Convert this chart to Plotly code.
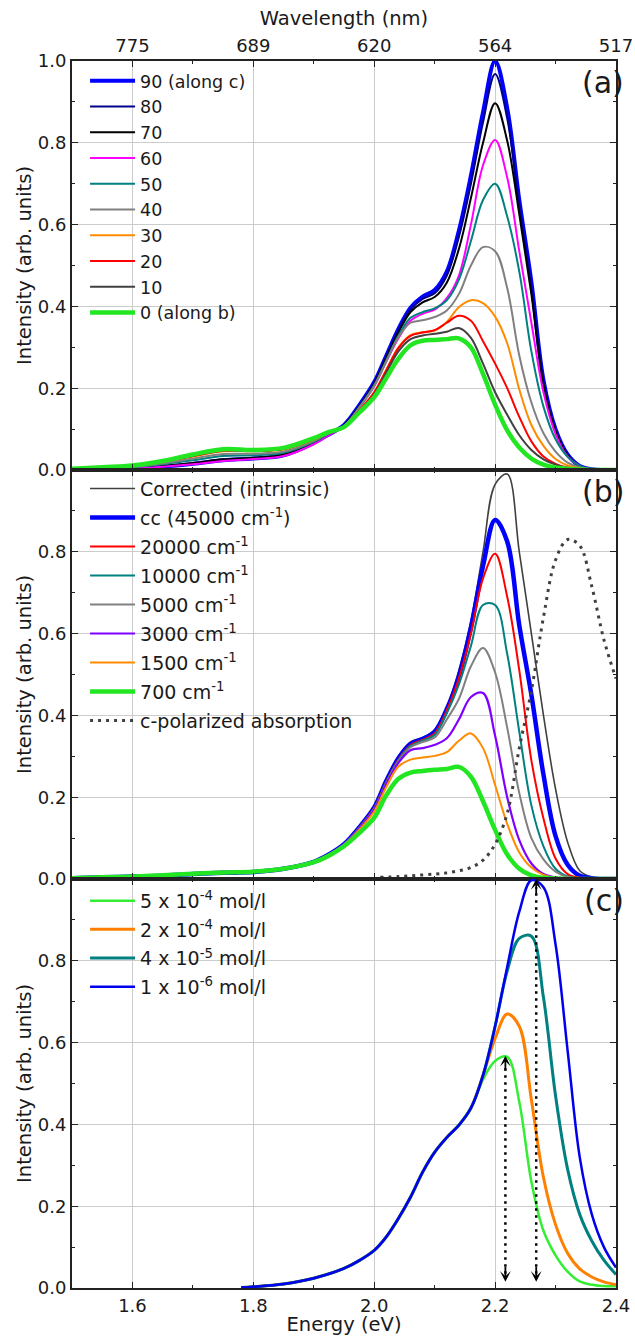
import plotly.graph_objects as go

# ---------------- data ----------------
E_a = [1.50, 1.55, 1.60, 1.65, 1.70, 1.75, 1.80, 1.85, 1.90, 1.925, 1.95, 1.975,
       2.00, 2.02, 2.04, 2.06, 2.08, 2.10, 2.12, 2.14, 2.16, 2.18, 2.20,
       2.22, 2.24, 2.26, 2.28, 2.30, 2.32, 2.34, 2.36, 2.38, 2.40]

a90 = [0.000, 0.002, 0.004, 0.008, 0.015, 0.024, 0.028, 0.036, 0.066, 0.087, 0.110, 0.158,
       0.215, 0.280, 0.345, 0.397, 0.424, 0.440, 0.485, 0.585, 0.720, 0.875, 1.000,
       0.885, 0.660, 0.460, 0.220, 0.100, 0.038, 0.010, 0.002, 0.000, 0.000]
a80 = [0.000, 0.002, 0.004, 0.008, 0.015, 0.024, 0.028, 0.036, 0.066, 0.087, 0.109, 0.156,
       0.213, 0.277, 0.341, 0.392, 0.418, 0.432, 0.475, 0.570, 0.700, 0.850, 0.968,
       0.860, 0.645, 0.445, 0.215, 0.098, 0.037, 0.010, 0.002, 0.000, 0.000]
a70 = [0.001, 0.003, 0.005, 0.010, 0.017, 0.026, 0.030, 0.038, 0.067, 0.088, 0.109, 0.155,
       0.211, 0.274, 0.336, 0.386, 0.410, 0.423, 0.458, 0.540, 0.665, 0.800, 0.897,
       0.805, 0.625, 0.430, 0.210, 0.095, 0.035, 0.009, 0.002, 0.000, 0.000]
a60 = [0.000, 0.002, 0.004, 0.008, 0.014, 0.022, 0.027, 0.034, 0.063, 0.085, 0.107, 0.152,
       0.205, 0.265, 0.322, 0.365, 0.382, 0.392, 0.420, 0.475, 0.600, 0.745, 0.807,
       0.715, 0.535, 0.360, 0.190, 0.088, 0.033, 0.010, 0.002, 0.000, 0.000]
a50 = [0.002, 0.004, 0.007, 0.014, 0.024, 0.034, 0.036, 0.042, 0.069, 0.089, 0.107, 0.153,
       0.207, 0.268, 0.328, 0.372, 0.386, 0.395, 0.415, 0.465, 0.560, 0.660, 0.700,
       0.620, 0.485, 0.290, 0.155, 0.075, 0.032, 0.010, 0.002, 0.000, 0.000]
a40 = [0.002, 0.005, 0.008, 0.016, 0.028, 0.039, 0.040, 0.045, 0.071, 0.090, 0.107, 0.152,
       0.206, 0.266, 0.325, 0.360, 0.366, 0.374, 0.390, 0.430, 0.500, 0.545, 0.535,
       0.445, 0.280, 0.165, 0.090, 0.045, 0.018, 0.006, 0.001, 0.000, 0.000]
a30 = [0.003, 0.006, 0.010, 0.020, 0.033, 0.046, 0.046, 0.050, 0.074, 0.091, 0.106, 0.145,
       0.190, 0.245, 0.300, 0.330, 0.337, 0.341, 0.362, 0.398, 0.415, 0.408, 0.375,
       0.310, 0.197, 0.110, 0.059, 0.027, 0.011, 0.004, 0.001, 0.000, 0.000]
a20 = [0.003, 0.006, 0.010, 0.020, 0.034, 0.047, 0.047, 0.051, 0.075, 0.091, 0.106, 0.145,
       0.190, 0.244, 0.298, 0.328, 0.336, 0.342, 0.360, 0.377, 0.365, 0.315, 0.260,
       0.200, 0.130, 0.070, 0.033, 0.015, 0.006, 0.002, 0.000, 0.000, 0.000]
a10 = [0.003, 0.006, 0.010, 0.021, 0.035, 0.048, 0.047, 0.052, 0.076, 0.092, 0.106, 0.143,
       0.185, 0.238, 0.290, 0.320, 0.329, 0.333, 0.338, 0.347, 0.323, 0.260, 0.190,
       0.135, 0.085, 0.049, 0.026, 0.013, 0.005, 0.002, 0.000, 0.000, 0.000]
a0 = [0.003, 0.007, 0.011, 0.022, 0.038, 0.051, 0.049, 0.054, 0.078, 0.093, 0.105, 0.140,
      0.178, 0.225, 0.272, 0.305, 0.316, 0.318, 0.320, 0.322, 0.300, 0.235, 0.160,
      0.097, 0.055, 0.028, 0.013, 0.006, 0.003, 0.001, 0.000, 0.000, 0.000]

names_a = ["90 (along c)", "80", "70", "60", "50", "40", "30", "20", "10", "0 (along b)"]
series_a = [a90, a80, a70, a60, a50, a40, a30, a20, a10, a0]

E_b = [1.50, 1.55, 1.60, 1.65, 1.70, 1.75, 1.80, 1.85, 1.90, 1.925, 1.95, 1.975,
       2.00, 2.02, 2.04, 2.06, 2.08, 2.10, 2.12, 2.14, 2.16, 2.18, 2.20,
       2.22, 2.24, 2.26, 2.28, 2.30, 2.32, 2.34, 2.36, 2.38, 2.40]
b_corr = [0.002, 0.004, 0.006, 0.008, 0.012, 0.015, 0.017, 0.025, 0.042, 0.060, 0.085, 0.127,
          0.177, 0.243, 0.300, 0.335, 0.346, 0.365, 0.420, 0.510, 0.630, 0.800, 0.965,
          0.990, 0.800, 0.600, 0.400, 0.220, 0.090, 0.020, 0.004, 0.000, 0.000]
b_cc = [0.002, 0.004, 0.006, 0.008, 0.012, 0.015, 0.017, 0.025, 0.042, 0.060, 0.085, 0.126,
        0.175, 0.240, 0.295, 0.330, 0.342, 0.360, 0.415, 0.495, 0.615, 0.765, 0.878,
        0.825, 0.620, 0.450, 0.255, 0.105, 0.035, 0.008, 0.002, 0.000, 0.000]
b_20000 = [0.002, 0.004, 0.006, 0.008, 0.012, 0.015, 0.017, 0.025, 0.042, 0.060, 0.085, 0.125,
           0.174, 0.238, 0.292, 0.327, 0.340, 0.356, 0.412, 0.490, 0.600, 0.735, 0.795,
           0.690, 0.510, 0.290, 0.148, 0.050, 0.012, 0.003, 0.000, 0.000, 0.000]
b_10000 = [0.002, 0.004, 0.006, 0.008, 0.012, 0.015, 0.017, 0.025, 0.042, 0.060, 0.085, 0.125,
           0.173, 0.237, 0.290, 0.325, 0.338, 0.352, 0.405, 0.475, 0.570, 0.670, 0.670,
           0.550, 0.360, 0.180, 0.080, 0.025, 0.006, 0.001, 0.000, 0.000, 0.000]
b_5000 = [0.002, 0.004, 0.006, 0.008, 0.012, 0.015, 0.017, 0.025, 0.042, 0.060, 0.085, 0.124,
          0.172, 0.235, 0.288, 0.322, 0.335, 0.346, 0.390, 0.440, 0.520, 0.565, 0.505,
          0.370, 0.210, 0.100, 0.048, 0.018, 0.005, 0.001, 0.000, 0.000, 0.000]
b_3000 = [0.002, 0.004, 0.006, 0.008, 0.012, 0.015, 0.017, 0.025, 0.042, 0.059, 0.084, 0.123,
          0.170, 0.232, 0.284, 0.315, 0.320, 0.328, 0.344, 0.390, 0.445, 0.455, 0.350,
          0.200, 0.095, 0.038, 0.012, 0.004, 0.001, 0.000, 0.000, 0.000, 0.000]
b_1500 = [0.002, 0.004, 0.006, 0.008, 0.012, 0.015, 0.017, 0.025, 0.042, 0.059, 0.083, 0.120,
          0.165, 0.225, 0.275, 0.292, 0.297, 0.301, 0.310, 0.338, 0.356, 0.320, 0.230,
          0.135, 0.065, 0.028, 0.010, 0.003, 0.001, 0.000, 0.000, 0.000, 0.000]
b_700 = [0.002, 0.004, 0.006, 0.009, 0.013, 0.016, 0.018, 0.025, 0.041, 0.057, 0.080, 0.112,
         0.150, 0.205, 0.245, 0.260, 0.264, 0.267, 0.269, 0.274, 0.250, 0.190, 0.120,
         0.060, 0.025, 0.009, 0.003, 0.001, 0.000, 0.000, 0.000, 0.000, 0.000]

names_b = ["Corrected (intrinsic)", "cc (45000 cm<sup>-1</sup>)", "20000 cm<sup>-1</sup>",
           "10000 cm<sup>-1</sup>", "5000 cm<sup>-1</sup>", "3000 cm<sup>-1</sup>",
           "1500 cm<sup>-1</sup>", "700 cm<sup>-1</sup>"]
series_b = [b_corr, b_cc, b_20000, b_10000, b_5000, b_3000, b_1500, b_700]

E_abs = [2.01, 2.04, 2.07, 2.10, 2.12, 2.14, 2.16, 2.18, 2.20, 2.22,
         2.24, 2.26, 2.28, 2.30, 2.32, 2.34, 2.36, 2.38, 2.40]
b_abs = [0.004, 0.006, 0.009, 0.012, 0.015, 0.020, 0.028, 0.046, 0.085, 0.160,
         0.320, 0.460, 0.640, 0.780, 0.830, 0.815, 0.715, 0.585, 0.490]

E_c = [1.78, 1.80, 1.85, 1.90, 1.95, 1.975,
       2.00, 2.02, 2.04, 2.06, 2.08, 2.10, 2.12, 2.14, 2.16, 2.18, 2.20,
       2.22, 2.24, 2.26, 2.28, 2.30, 2.32, 2.34, 2.36, 2.38, 2.40]
c_5e4 = [0.001, 0.003, 0.010, 0.024, 0.048, 0.067,
         0.092, 0.125, 0.170, 0.222, 0.283, 0.332, 0.368, 0.398, 0.440, 0.510, 0.555,
         0.565, 0.455, 0.260, 0.140, 0.080, 0.040, 0.016, 0.008, 0.005, 0.004]
c_2e4 = [0.001, 0.003, 0.010, 0.024, 0.048, 0.067,
         0.092, 0.125, 0.170, 0.222, 0.283, 0.332, 0.368, 0.398, 0.440, 0.520, 0.610,
         0.670, 0.640, 0.460, 0.270, 0.155, 0.085, 0.047, 0.027, 0.015, 0.008]
c_4e5 = [0.001, 0.003, 0.010, 0.024, 0.048, 0.067,
         0.092, 0.125, 0.170, 0.222, 0.283, 0.332, 0.368, 0.398, 0.440, 0.520, 0.640,
         0.775, 0.855, 0.860, 0.710, 0.470, 0.290, 0.180, 0.115, 0.068, 0.033]
c_1e6 = [0.001, 0.003, 0.010, 0.024, 0.048, 0.067,
         0.092, 0.125, 0.170, 0.222, 0.283, 0.332, 0.368, 0.398, 0.440, 0.520, 0.640,
         0.785, 0.920, 0.997, 0.980, 0.840, 0.580, 0.320, 0.180, 0.100, 0.050]

names_c = ["5 x 10<sup>-4</sup> mol/l", "2 x 10<sup>-4</sup> mol/l",
           "4 x 10<sup>-5</sup> mol/l", "1 x 10<sup>-6</sup> mol/l"]
series_c = [c_5e4, c_2e4, c_4e5, c_1e6]

# peak-shift arrows in panel (c)
arrow_x = [2.217, 2.268]
arrow_top = [0.568, 1.0]
arrow_bottom = [0.015, 0.015]

# axes tick values / labels
x_ticks = [1.6, 1.8, 2.0, 2.2, 2.4]
x_minor = [1.7, 1.9, 2.1, 2.3]
wl_labels = ["775", "689", "620", "564", "517"]
y_ticks_a = [0.0, 0.2, 0.4, 0.6, 0.8, 1.0]
y_ticks_bc = [0.0, 0.2, 0.4, 0.6, 0.8]
y_minor = [0.1, 0.3, 0.5, 0.7, 0.9]

# ---------------- styles ----------------
colors_a = ["#0000ff", "#00008b", "#000000", "#ff00ff", "#008080",
            "#808080", "#ff8c00", "#ff0000", "#404040", "#22e622"]
widths_a = [4, 2, 2, 2, 2, 2, 2, 2, 2, 4.5]
colors_b = ["#404040", "#0000ff", "#ff0000", "#008080", "#808080",
            "#8000ff", "#ff8c00", "#22e622"]
widths_b = [1.6, 4.5, 2, 2, 2, 2.2, 2, 4.5]
colors_c = ["#33ee33", "#ff8000", "#008080", "#0000ee"]
widths_c = [2.5, 3, 3, 2.5]

fig = go.Figure()


def add(x, y, name, color, width, xa, ya, leg, group, dash=None):
    fig.add_trace(go.Scatter(
        x=x, y=y, name=name, mode="lines", legendgroup=group,
        line=dict(color=color, width=width, shape="spline", smoothing=1.0, dash=dash),
        xaxis=xa, yaxis=ya, legend=leg))


for i, (n, s, c, w) in enumerate(zip(names_a, series_a, colors_a, widths_a)):
    add(E_a, s, n, c, w, "x", "y", "legend", "a%d" % i)
for i, (n, s, c, w) in enumerate(zip(names_b, series_b, colors_b, widths_b)):
    add(E_b, s, n, c, w, "x2", "y2", "legend2", "b%d" % i)
add(E_abs, b_abs, "c-polarized absorption", "#404040", 3, "x2", "y2", "legend2", "babs",
    dash="3px,5px")
for i, (n, s, c, w) in enumerate(zip(names_c, series_c, colors_c, widths_c)):
    add(E_c, s, n, c, w, "x3", "y3", "legend3", "c%d" % i)

TXT = "#1a1a1a"
common = dict(showline=True, linecolor="#222222", linewidth=2, mirror="ticks",
              ticks="inside", ticklen=6, tickwidth=1.2, tickcolor="#222222",
              showgrid=True, gridcolor="#cccccc", gridwidth=1, zeroline=False,
              automargin=False, tickfont=dict(size=18, color=TXT))
xcommon = dict(common, range=[1.5, 2.4], tickmode="array", tickvals=x_ticks,
               minor=dict(tickmode="array", tickvals=x_minor, ticks="inside",
                          ticklen=3, tickcolor="#222222", showgrid=False))


def ycommon(ticks, labels, domain, anchor):
    return dict(common, range=[0, 1.0], domain=domain, anchor=anchor,
                tickmode="array", tickvals=ticks, ticktext=labels,
                minor=dict(tickmode="array", tickvals=y_minor, ticks="inside",
                           ticklen=3, tickcolor="#222222", showgrid=False),
                title=dict(text="Intensity (arb. units)", font=dict(size=19.5, color=TXT),
                           standoff=1))


lab_a = ["%.1f" % v for v in y_ticks_a]
lab_bc = ["%.1f" % v for v in y_ticks_bc]

leg_common = dict(xanchor="left", yanchor="top", bgcolor="rgba(0,0,0,0)", itemwidth=45)

fig.update_layout(
    width=635, height=1336,
    margin=dict(l=72, r=19, t=61, b=48, autoexpand=False),
    paper_bgcolor="white", plot_bgcolor="white",
    font=dict(family="DejaVu Sans", size=18, color=TXT),
    xaxis=dict(xcommon, anchor="y", side="top", ticktext=wl_labels,
               title=dict(text="Wavelength (nm)", font=dict(size=19.5, color=TXT), standoff=4)),
    xaxis2=dict(xcommon, anchor="y2", showticklabels=False),
    xaxis3=dict(xcommon, anchor="y3", side="bottom", ticktext=["%.1f" % v for v in x_ticks],
                title=dict(text="Energy (eV)", font=dict(size=19.5, color=TXT), standoff=10)),
    yaxis=ycommon(y_ticks_a, lab_a, [2 / 3, 1.0], "x"),
    yaxis2=ycommon(y_ticks_bc, lab_bc, [1 / 3, 2 / 3], "x2"),
    yaxis3=ycommon(y_ticks_bc, lab_bc, [0.0, 1 / 3], "x3"),
    legend=dict(leg_common, x=0.024, y=0.9985, tracegroupgap=0,
                font=dict(size=17.5, color=TXT, family="DejaVu Sans")),
    legend2=dict(leg_common, x=0.024, y=2 / 3 + 0.0003, tracegroupgap=1.3,
                 font=dict(size=19, color=TXT, family="DejaVu Sans")),
    legend3=dict(leg_common, x=0.024, y=1 / 3 - 0.0023, tracegroupgap=1,
                 font=dict(size=19, color=TXT, family="DejaVu Sans")),
)

# panel labels
for lbl, xr, yr in [("(a)", "x domain", "y domain"), ("(b)", "x2 domain", "y2 domain"),
                    ("(c)", "x3 domain", "y3 domain")]:
    fig.add_annotation(text=lbl, xref=xr, yref=yr, x=1.0, y=0.995, xshift=10,
                       xanchor="right", yanchor="top", showarrow=False,
                       font=dict(size=30, color=TXT))

# dotted double arrows in panel (c)
for ax_, yt, yb in zip(arrow_x, arrow_top, arrow_bottom):
    fig.add_shape(type="line", xref="x3", yref="y3", x0=ax_, x1=ax_, y0=yb + 0.02, y1=yt - 0.02,
                  line=dict(color="black", width=2.5, dash="2.5px,4.5px"))
    for tip, tail in [(yt, yt - 0.04), (yb, yb + 0.04)]:
        fig.add_annotation(x=ax_, y=tip, ax=ax_, ay=tail, xref="x3", yref="y3",
                           axref="x3", ayref="y3", text="", showarrow=True,
                           arrowhead=3, arrowsize=1.0, arrowwidth=1.8, arrowcolor="black",
                           standoff=0)

fig.write_html("out.html")
